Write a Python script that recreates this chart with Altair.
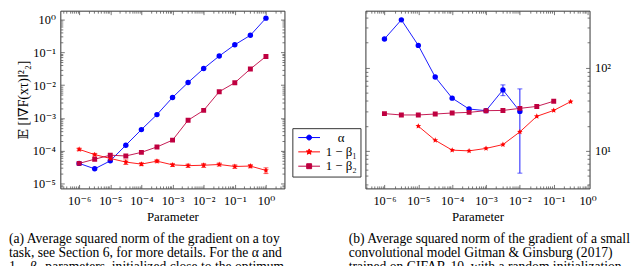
import json
import math
import altair as alt
import pandas as pd

FONT = "'Liberation Serif', 'DejaVu Serif', serif"

# ---------------- data ----------------
params = [1e-6, 3.16e-6, 1e-5, 3.16e-5, 1e-4, 3.16e-4, 1e-3, 3.16e-3,
          1e-2, 3.16e-2, 1e-1, 3.16e-1, 1.0]

series_names = ["α", "1 − β₁", "1 − β₂"]
series_colors = ["#0000ff", "#ff0000", "#bf0040"]

# left panel (toy task)
alpha_left = [4.1e-5, 2.8e-5, 4.9e-5, 1.47e-4, 4.4e-4, 1.26e-3, 4.2e-3,
              1.2e-2, 3.2e-2, 7.7e-2, 1.7e-1, 3.3e-1, 1.1]
beta1_left = [1.1e-4, 7.6e-5, 5.8e-5, 4.5e-5, 3.9e-5, 4.8e-5, 3.7e-5,
              3.5e-5, 3.6e-5, 3.8e-5, 3.3e-5, 3.4e-5, 2.5e-5]
beta1_left_err = [1.0e-5, 7e-6, 6e-6, 7e-6, 4e-6, 5e-6, 4e-6,
                  4e-6, 5e-6, 4e-6, 4e-6, 4e-6, 5e-6]
beta2_left = [4.1e-5, 5.5e-5, 7.3e-5, 6.9e-5, 8.9e-5, 1.3e-4, 2.1e-4,
              8.5e-4, 1.7e-3, 6.3e-3, 1.18e-2, 3.1e-2, 7.5e-2]

# right panel (CIFAR-10)
alpha_right = [221, 375, 185, 77, 43, 31.8, 30.4, 54, 29.8]          # params[0:9]
alpha_right_err_params = [3.16e-3, 1e-2]
alpha_right_err_lo = [46, 5.4]
alpha_right_err_hi = [62, 55.5]
beta1_right = [19.8, 13.4, 10.2, 10.0, 10.7, 11.9, 16.9, 26, 30.6, 39]  # params[2:12]
beta2_right = [28, 27, 27, 27.7, 28.5, 29, 30.4, 30.6, 32.4, 34.2, 39.5]  # params[0:11]

x_major_exps = [-6, -5, -4, -3, -2, -1, 0]
left_y_major_exps = [-5, -4, -3, -2, -1, 0]
right_y_major_exps = [1, 2]

captions_left = ["(a) Average squared norm of the gradient on a toy",
                 "task, see Section 6, for more details.  For the α and",
                 "1 − β₂ parameters, initialized close to the optimum,"]
captions_right = ["(b) Average squared norm of the gradient of a small",
                  "convolutional model Gitman & Ginsburg (2017)",
                  "trained on CIFAR-10, with a random initialization."]

# ---------------- tables ----------------
def make_df(series_lists):
    rows = []
    for name, xs, ys in series_lists:
        for p, v in zip(xs, ys):
            rows.append({"param": p, "value": v, "series": name})
    return pd.DataFrame(rows)

df_left = make_df([(series_names[0], params, alpha_left),
                   (series_names[1], params, beta1_left),
                   (series_names[2], params, beta2_left)])
df_right = make_df([(series_names[0], params[0:9], alpha_right),
                    (series_names[1], params[2:12], beta1_right),
                    (series_names[2], params[0:11], beta2_right)])

err_left = pd.DataFrame({"param": params,
                         "lo": [v - e for v, e in zip(beta1_left, beta1_left_err)],
                         "hi": [v + e for v, e in zip(beta1_left, beta1_left_err)],
                         "series": series_names[1]})
err_right = pd.DataFrame({"param": alpha_right_err_params,
                          "lo": alpha_right_err_lo, "hi": alpha_right_err_hi,
                          "series": series_names[0]})

# ---------------- helpers ----------------
SUP = {"-": "⁻", "0": "⁰", "1": "¹", "2": "²", "3": "³", "4": "⁴",
       "5": "⁵", "6": "⁶", "7": "⁷", "8": "⁸", "9": "⁹"}
LBL = ["10" + "".join(SUP[c] for c in str(e)) for e in range(-8, 4)]
LABEL_EXPR = json.dumps(LBL) + "[round(log(datum.value)/LN10)+8]"


def minor_vals(lo, hi):
    out = []
    for k in range(-9, 4):
        for m in range(2, 10):
            v = m * 10.0 ** k
            if lo < v < hi:
                out.append(v)
    return out


def star_path(R, r, line=None):
    pts = []
    for i in range(10):
        ang = math.radians(-90 + 36 * i)
        rad = R if i % 2 == 0 else r
        pts.append((rad * math.cos(ang), rad * math.sin(ang)))
    p = "M" + "L".join(f"{x:.3f},{y:.3f}" for x, y in pts) + "Z"
    if line:
        p = f"M-{line},0L{line},0" + p
    return p


STAR = star_path(1.0, 0.45)
shapes_chart = ["circle", STAR, "square"]
sizes_chart = [30, 36, 25]

LW = 2.2
legend_paths = [
    f"M-{LW},0L{LW},0M-0.5,0A0.5,0.5,0,1,0,0.5,0A0.5,0.5,0,1,0,-0.5,0Z",
    star_path(0.6, 0.27, LW),
    f"M-{LW},0L{LW},0M-0.5,-0.5L0.5,-0.5L0.5,0.5L-0.5,0.5Z",
]


def tick_axis(orient, values, size):
    return alt.Axis(orient=orient, values=values, labels=False, domain=False,
                    ticks=True, tickSize=size, offset=-size, grid=False,
                    title=None, tickColor="#555", tickWidth=0.8)


def panel(df, err, xdom, ydom, y_major_exps, y_orient, y_title, caption, cap_dx,
          with_legend):
    xs = alt.Scale(type="log", domain=xdom, nice=False)
    ys = alt.Scale(type="log", domain=ydom, nice=False)
    x_major = [10.0 ** e for e in x_major_exps]
    y_major = [10.0 ** e for e in y_major_exps]
    x_minor = minor_vals(*xdom)
    y_minor = minor_vals(*ydom)

    def enc(chart, ax, ay):
        return chart.encode(x=alt.X("param:Q", scale=xs, axis=ax),
                            y=alt.Y("value:Q", scale=ys, axis=ay))

    layers = []
    # label axes
    xlab = alt.Axis(orient="bottom", values=x_major, labelExpr=LABEL_EXPR,
                    ticks=False, domain=False, grid=False, labelPadding=6,
                    title="Parameter", titlePadding=4)
    ylab_kwargs = dict(orient=y_orient, values=y_major, labelExpr=LABEL_EXPR,
                       ticks=False, domain=False, grid=False, labelPadding=5)
    if y_title:
        ylab = alt.Axis(title=y_title, titlePadding=2, titleFontSize=14,
                        titleAnchor="middle", titleY=90, **ylab_kwargs)
    else:
        ylab = alt.Axis(title=None, **ylab_kwargs)
    base = alt.Chart(df).mark_point(opacity=0)
    layers.append(enc(base, xlab, ylab))
    # inward tick axes (major + minor, all four sides)
    layers.append(enc(base, tick_axis("bottom", x_major, 4), tick_axis("left", y_major, 4)))
    layers.append(enc(base, tick_axis("top", x_major, 4), tick_axis("right", y_major, 4)))
    layers.append(enc(base, tick_axis("bottom", x_minor, 2.5), tick_axis("left", y_minor, 2.5)))
    layers.append(enc(base, tick_axis("top", x_minor, 2.5), tick_axis("right", y_minor, 2.5)))

    for name, col, shp, sz in zip(series_names, series_colors, shapes_chart, sizes_chart):
        sub = alt.Chart(df).transform_filter(alt.datum.series == name)
        layers.append(enc(sub.mark_line(color=col, strokeWidth=0.9, clip=True), None, None))
        e = err[err["series"] == name]
        if len(e):
            layers.append(
                alt.Chart(e).mark_errorbar(ticks={"size": 5}, color=col, thickness=0.9)
                .encode(x=alt.X("param:Q", scale=xs, axis=None),
                        y=alt.Y("lo:Q", scale=ys, axis=None), y2="hi:Q"))
        layers.append(enc(sub.mark_point(shape=shp, size=sz, filled=True, opacity=1,
                                         color=col, clip=True), None, None))

    if with_legend:
        leg = alt.Legend(title=None, orient="none", legendX=235, legendY=119,
                         symbolSize=100, symbolStrokeWidth=1, symbolOffset=7.5,
                         labelOffset=26, labelAlign="center",
                         labelFont=FONT, labelFontSize=13, labelColor="black",
                         strokeColor="#333", fillColor="white", padding=3,
                         rowPadding=0.5, labelLimit=200)
        lg = alt.Chart(df).transform_filter("false").mark_point(filled=True, opacity=1)
        layers.append(enc(lg, None, None).encode(
            fill=alt.Fill("series:N", scale=alt.Scale(domain=series_names, range=series_colors), legend=leg),
            stroke=alt.Stroke("series:N", scale=alt.Scale(domain=series_names, range=series_colors), legend=leg),
            shape=alt.Shape("series:N", scale=alt.Scale(domain=series_names, range=legend_paths), legend=leg),
        ))

    return alt.layer(*layers).resolve_axis(x="independent", y="independent").properties(
        width=227, height=180,
        title=alt.TitleParams(text=caption, orient="bottom", anchor="start", frame="group",
                              dx=cap_dx, offset=9, font=FONT, fontSize=13.8,
                              fontWeight="normal", lineHeight=14, color="black"))


left = panel(df_left, err_left, [2.49e-7, 3.93], [7.08e-6, 1.86], left_y_major_exps,
             "left", "𝔼 [‖∇F(xτ)‖²₂]", captions_left, -52, True)
right = panel(df_right, err_right, [2.74e-7, 1.143], [3.54, 483], right_y_major_exps,
              "right", None, captions_right, -17, False)

chart = alt.hconcat(left, right, spacing=82, bounds="flush").resolve_scale(
    x="independent", y="independent"
).properties(padding={"left": 0, "top": 0, "right": 0, "bottom": 0}).configure_view(
    stroke="#333", strokeWidth=1
).configure_axis(
    labelFont=FONT, titleFont=FONT, labelFontSize=12.5, titleFontSize=13,
    labelColor="black", titleColor="black", titleFontWeight="normal"
)

chart.save("out.html", embed_options={"renderer": "svg", "actions": False})
